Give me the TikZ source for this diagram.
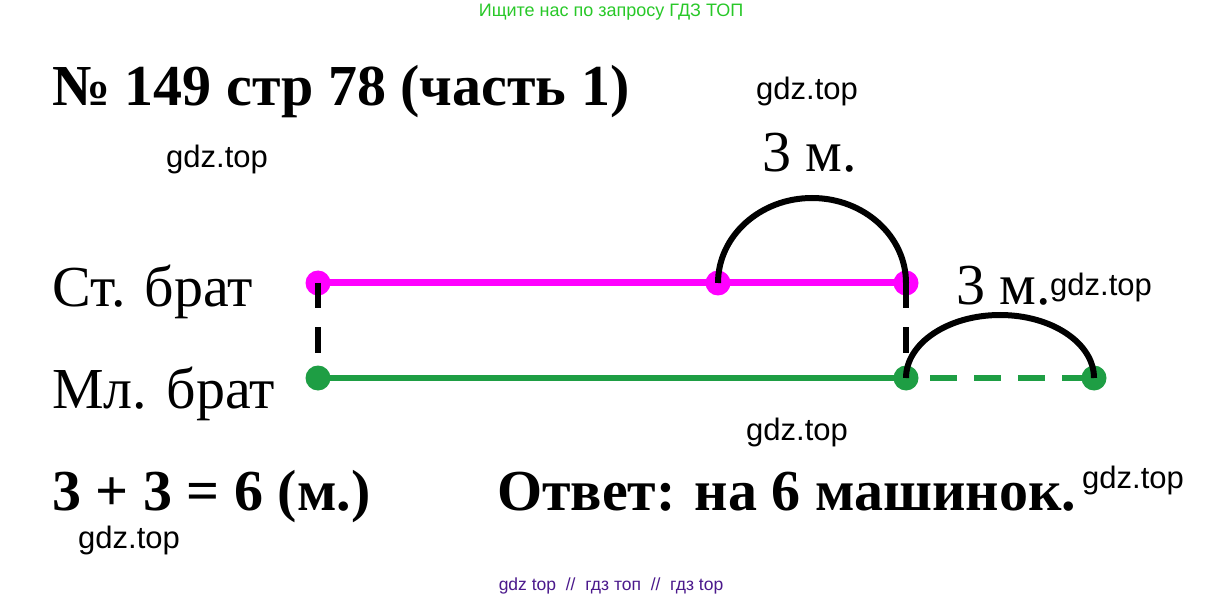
\documentclass[tikz,border=0pt]{standalone}
\usepackage{fontspec}
\setmainfont{Liberation Serif}
\newfontfamily\gdzfont{Liberation Sans}
\usetikzlibrary{positioning}
\definecolor{dotpink}{RGB}{255,0,255}
\definecolor{dotgreen}{RGB}{30,158,68}
\definecolor{adgreen}{RGB}{40,200,40}
\definecolor{footpurple}{RGB}{75,25,140}

\begin{document}
\begin{tikzpicture}[x=1pt, y=-1pt,
% Define custom styles for dots, texts and lines
    pinkdot/.style={
        circle,
        fill=dotpink,
        inner sep=0pt,
        minimum size=25pt
        },
    greendot/.style={
        circle,
        fill=dotgreen,
        inner sep=0pt,
        minimum size=25pt
        },
    bigtext/.style={anchor=base west, inner sep=0pt, font=\fontsize{58}{60}\selectfont},
    boldtext/.style={anchor=base west, inner sep=0pt, font=\fontsize{58}{60}\selectfont\bfseries},
    mark gdz/.style={anchor=base west, inner sep=0pt, font=\gdzfont\fontsize{31}{33}\selectfont},
    arcline/.style={black, line width=6pt},
    linkdash/.style={black, line width=6pt, dash pattern=on 25pt off 19pt on 26pt off 60pt}
]
\fill[white] (0,0) rectangle (1222,601);
\useasboundingbox (0,0) rectangle (1222,601);

\node[inner sep=0pt, text=adgreen, font=\gdzfont\fontsize{18}{20}\selectfont] (ad) at (611,12) {Ищите нас по запросу ГДЗ ТОП};
\node[boldtext] (title) at (52,106) {№ 149 стр 78 (часть 1)};

\node[bigtext] (old) at (52,306) {Ст. брат};
\node[bigtext] (young) at (52,408) {Мл. брат};

\node[pinkdot] (S1) at (318,283) {};
\node[pinkdot, on grid, right=400pt of S1] (S2) {};
\node[pinkdot, on grid, right=188pt of S2] (S3) {};

\node[greendot] (G1) at (318,378) {};
\node[greendot, on grid, right=588pt of G1] (G2) {};
\node[greendot, on grid, right=188pt of G2] (G3) {};

\draw[dotpink, line width=7pt] (S1.center) -- (S3.center);
\draw[dotgreen, line width=6pt] (G1.center) -- (G2.center);
\draw[dotgreen, line width=6pt, dash pattern=on 27pt off 17pt, dash phase=20pt] (G2.center) -- (G3.center);

\draw[linkdash] (S1.center) -- (G1.center);
\draw[linkdash] (S3.center) -- (G2.center);

\draw[arcline] (S2.center) arc[start angle=180, end angle=0, x radius=94pt, y radius=85pt];
\draw[arcline] (G2.center) arc[start angle=180, end angle=0, x radius=94pt, y radius=63pt];

\node[bigtext] (len1) at (762,172) {3 м.};
\node[bigtext] (len2) at (956,305) {3 м.};

\node[boldtext] (sum) at (52,510) {3 + 3 = 6 (м.)};
\node[boldtext] (answer) at (497,510) {Ответ: на 6 машинок.};

\node[mark gdz] (w1) at (756,100) {gdz.top};
\node[mark gdz] (w2) at (166,168) {gdz.top};
\node[mark gdz] (w3) at (1050,296) {gdz.top};
\node[mark gdz] (w4) at (746,440) {gdz.top};
\node[mark gdz] (w5) at (1082,488) {gdz.top};
\node[mark gdz] (w6) at (78,548) {gdz.top};

\node[inner sep=0pt, text=footpurple, font=\gdzfont\fontsize{17.5}{19}\selectfont] (foot) at (611,586) {gdz top~~//~~гдз топ~~//~~гдз top};

\end{tikzpicture}
\end{document}
